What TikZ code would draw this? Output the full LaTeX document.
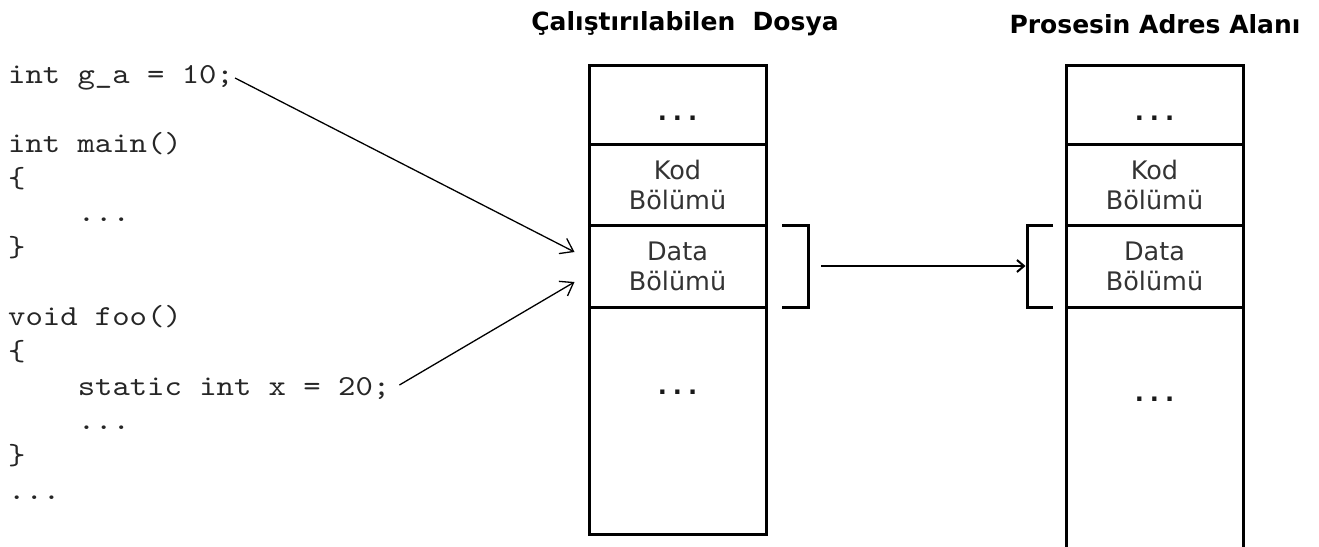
\documentclass[tikz,border=0pt]{standalone}
\usepackage{fontspec}
\newfontfamily\codefont{lmmono10-regular.otf}[FakeStretch=1.14]
\newfontfamily\verdfont{DejaVu Sans}
\usetikzlibrary{arrows.meta,calc}
\begin{document}
\begin{tikzpicture}[x=1pt,y=-1pt,
  cell/.style={draw, line width=3pt, minimum width=177pt, inner sep=0pt,
    font=\verdfont\fontsize{25.5}{30}\selectfont, text=black!80, align=center},
  code/.style={anchor=base west, inner sep=0pt, text=black!85,
    font=\codefont\fontsize{29}{34.67}\selectfont},
  ttl/.style={font=\verdfont\bfseries\fontsize{25}{30}\selectfont},
  dotsn/.style={anchor=base, inner sep=0pt, text=black!90,
    font=\verdfont\bfseries\fontsize{24}{30}\selectfont},
  conn/.style={line width=1.3pt, -{Straight Barb[length=12pt,width=17pt,line width=1.3pt]}},
  conntwo/.style={line width=1.5pt, -{Straight Barb[length=7pt,width=12pt,line width=2pt]}},
  brk/.style={line width=3pt}]
\useasboundingbox (0,0) rectangle (1319,546);
\clip (0,0) rectangle (1319,546);

% titles
\node[ttl] (t1) at (685,24) {Çalıştırılabilen\ \ Dosya};
\node[ttl] (t2) at (1155,24) {Prosesin Adres Alanı};

% code
\node[code] (ga) at (8,83) {int g\_a = 10;};
\node[code] (m1) at (8,152.3) {int main()};
\node[code] (m2) at (8,187) {\{};
\node[code] (m3) at (77.6,221.7) {...};
\node[code] (m4) at (8,256.3) {\}};
\node[code] (f1) at (8,325.7) {void foo()};
\node[code] (f2) at (8,360.4) {\{};
\node[code] (sx) at (77.6,395) {static int x = 20;};
\node[code] (f4) at (77.6,429.7) {...};
\node[code] (f5) at (8,464.4) {\}};
\node[code] (f6) at (8,499) {...};

% left box
\node[cell, minimum height=79pt] (la) at (677.5,104.5) {};
\node[cell, minimum height=81pt] (lb) at (677.5,184.5) {Kod\\Bölümü};
\node[cell, minimum height=82pt] (lc) at (677.5,266) {Data\\Bölümü};
\node[cell, minimum height=227pt] (ld) at (677.5,420.5) {};
\node[dotsn] (lad) at (677.5,120) {.\kern6pt.\kern6pt.};
\node[dotsn] (ldd) at (677.5,394) {.\kern6pt.\kern6pt.};

% right box
\node[cell, minimum height=79pt] (ra) at (1154.5,104.5) {};
\node[cell, minimum height=81pt] (rb) at (1154.5,184.5) {Kod\\Bölümü};
\node[cell, minimum height=82pt] (rc) at (1154.5,266) {Data\\Bölümü};
\node[cell, minimum height=253pt] (rd) at (1154.5,433.5) {};
\node[dotsn] (rad) at (1154.5,120) {.\kern6pt.\kern6pt.};
\node[dotsn] (rdd) at (1154.5,401) {.\kern6pt.\kern6pt.};

% arrows from code
\draw[conn] ($(ga.base east)+(1,-5)$) -- ($(lc.west)+(-13,-14)$);
\draw[conn] ($(sx.base east)+(9,-10)$) -- ($(lc.west)+(-13,16)$);

% brackets
\coordinate (lbt) at ($(lc.east)+(14.5,-41)$);
\coordinate (rbt) at ($(rc.west)+(-11.5,-41)$);
\draw[brk] (lbt) -- ++(26,0) -- ++(0,82) -- ++(-26,0);
\draw[brk] (rbt) -- ++(-26,0) -- ++(0,82) -- ++(26,0);
\coordinate (lbv) at ($(lbt)+(26,41)$);
\coordinate (rbv) at ($(rbt)+(-26,41)$);
\draw[conntwo, shorten >=1.5pt] ($(lbv)+(13,0)$) -- (rbv);
\end{tikzpicture}
\end{document}
